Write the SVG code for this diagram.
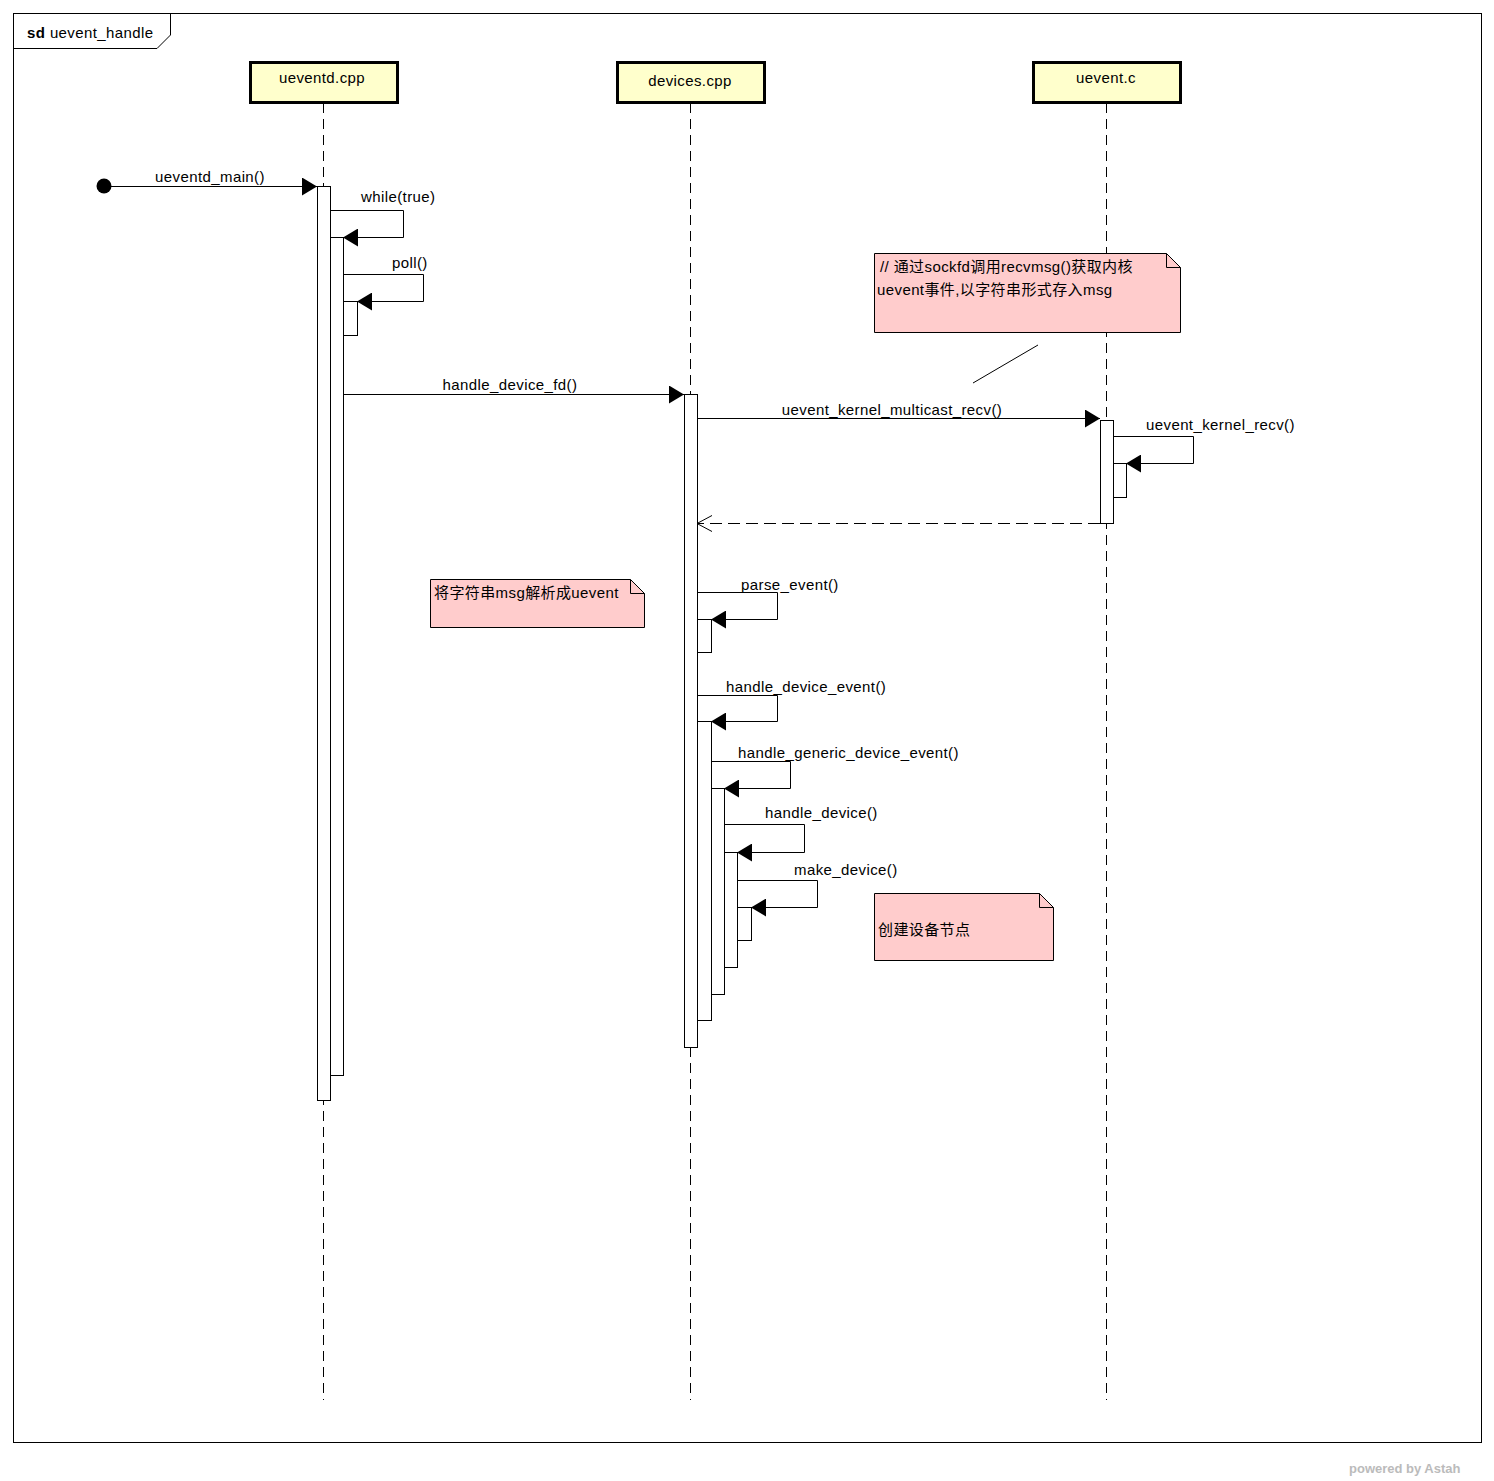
<svg xmlns="http://www.w3.org/2000/svg" width="1494" height="1481" viewBox="0 0 1494 1481">
<style>
text{font-family:"Liberation Sans","Noto Sans CJK SC",sans-serif;font-size:15px;letter-spacing:0.4px;fill:#000}
.head{fill:#FFFFCC;stroke:#000;stroke-width:3}
.life{stroke:#000;stroke-width:1;stroke-dasharray:10,6;fill:none}
.act{fill:#fff;stroke:#000;stroke-width:1}
.msg{fill:none;stroke:#000;stroke-width:1}
.note{fill:#FFCCCC;stroke:#000;stroke-width:1}
</style>
<defs>
<marker id="fa" markerWidth="16" markerHeight="18" refX="15" refY="9" orient="auto" markerUnits="userSpaceOnUse"><path d="M0,0 L15,9 L0,18 Z" fill="#000"/></marker>
<marker id="oa" markerWidth="16" markerHeight="18" refX="15" refY="9" orient="auto" markerUnits="userSpaceOnUse"><path d="M0,1 L15,9 L0,17" fill="none" stroke="#000"/></marker>
</defs>
<rect width="1494" height="1481" fill="#fff"/>
<g id="frame">
<rect x="13.5" y="13.5" width="1468" height="1429" fill="none" stroke="#000"/>
<path d="M13.5,13.5 H170.5 V35 L157,48.5 H13.5" fill="none" stroke="#000"/>
<text x="27" y="38"><tspan font-weight="bold">sd</tspan> uevent_handle</text>
</g>
<g id="lifelines">
<line class="life" x1="323.5" y1="103" x2="323.5" y2="1400"/>
<line class="life" x1="690.5" y1="103" x2="690.5" y2="1400"/>
<line class="life" x1="1106.5" y1="103" x2="1106.5" y2="1400"/>
</g>
<g id="ueventd"><rect class="head" x="250.5" y="62.5" width="147" height="40"/><text x="322" y="83" text-anchor="middle">ueventd.cpp</text></g>
<g id="devices"><rect class="head" x="617.5" y="62.5" width="147" height="40"/><text x="690" y="86" text-anchor="middle">devices.cpp</text></g>
<g id="ueventc"><rect class="head" x="1033.5" y="62.5" width="147" height="40"/><text x="1106" y="83" text-anchor="middle">uevent.c</text></g>
<g id="activations">
<rect class="act" x="317.5" y="186.5" width="13" height="914"/>
<rect class="act" x="330.5" y="237.5" width="13" height="838"/>
<rect class="act" x="343.5" y="301.5" width="14" height="34"/>
<rect class="act" x="684.5" y="394.5" width="13" height="653"/>
<rect class="act" x="697.5" y="619.5" width="14" height="33"/>
<rect class="act" x="697.5" y="721.5" width="14" height="299"/>
<rect class="act" x="711.5" y="788.5" width="13" height="206"/>
<rect class="act" x="724.5" y="852.5" width="13" height="115"/>
<rect class="act" x="737.5" y="907.5" width="14" height="33"/>
<rect class="act" x="1100.5" y="420.5" width="13" height="103"/>
<rect class="act" x="1113.5" y="463.5" width="13" height="34"/>
</g>
<g id="connectors">
<circle cx="104" cy="186" r="7.5" fill="#000"/>
<line class="msg" x1="104" y1="186.5" x2="317" y2="186.5" marker-end="url(#fa)"/>
<text x="210" y="182" text-anchor="middle">ueventd_main()</text>
<polyline class="msg" points="330,210.5 403.5,210.5 403.5,237.5 343,237.5" marker-end="url(#fa)"/>
<text x="361" y="202">while(true)</text>
<polyline class="msg" points="343,274.5 423.5,274.5 423.5,301.5 357,301.5" marker-end="url(#fa)"/>
<text x="392" y="268">poll()</text>
<line class="msg" x1="343" y1="394.5" x2="684" y2="394.5" marker-end="url(#fa)"/>
<text x="510" y="390" text-anchor="middle">handle_device_fd()</text>
<line class="msg" x1="697" y1="418.5" x2="1100" y2="418.5" marker-end="url(#fa)"/>
<text x="892" y="415" text-anchor="middle">uevent_kernel_multicast_recv()</text>
<polyline class="msg" points="1113,436.5 1193.5,436.5 1193.5,463.5 1126,463.5" marker-end="url(#fa)"/>
<text x="1146" y="430">uevent_kernel_recv()</text>
<line class="msg" x1="1100" y1="523.5" x2="697" y2="523.5" stroke-dasharray="12,6" marker-end="url(#oa)"/>
<polyline class="msg" points="697,592.5 777.5,592.5 777.5,619.5 711,619.5" marker-end="url(#fa)"/>
<text x="741" y="590">parse_event()</text>
<polyline class="msg" points="697,695.5 777.5,695.5 777.5,721.5 711,721.5" marker-end="url(#fa)"/>
<text x="726" y="692">handle_device_event()</text>
<polyline class="msg" points="711,761.5 790.5,761.5 790.5,788.5 724,788.5" marker-end="url(#fa)"/>
<text x="738" y="758">handle_generic_device_event()</text>
<polyline class="msg" points="724,824.5 804.5,824.5 804.5,852.5 737,852.5" marker-end="url(#fa)"/>
<text x="765" y="818">handle_device()</text>
<polyline class="msg" points="737,880.5 817.5,880.5 817.5,907.5 751,907.5" marker-end="url(#fa)"/>
<text x="794" y="875">make_device()</text>
<line class="msg" x1="973" y1="383" x2="1038" y2="345"/>
</g>
<g id="note1">
<path class="note" d="M874.5,253.5 H1166.5 L1180.5,267.5 V332.5 H874.5 Z"/>
<path class="msg" d="M1166.5,253.5 V267.5 H1180.5"/>
<text x="880" y="272">// 通过sockfd调用recvmsg()获取内核</text>
<text x="877" y="295">uevent事件,以字符串形式存入msg</text>
</g>
<g id="note2">
<path class="note" d="M430.5,579.5 H630.5 L644.5,593.5 V627.5 H430.5 Z"/>
<path class="msg" d="M630.5,579.5 V593.5 H644.5"/>
<text x="434" y="598">将字符串msg解析成uevent</text>
</g>
<g id="note3">
<path class="note" d="M874.5,893.5 H1039.5 L1053.5,907.5 V960.5 H874.5 Z"/>
<path class="msg" d="M1039.5,893.5 V907.5 H1053.5"/>
<text x="878" y="935">创建设备节点</text>
</g>
<text x="1349" y="1473" style="font-size:13px;letter-spacing:0;fill:#bbb;font-weight:bold">powered by Astah</text>
</svg>
